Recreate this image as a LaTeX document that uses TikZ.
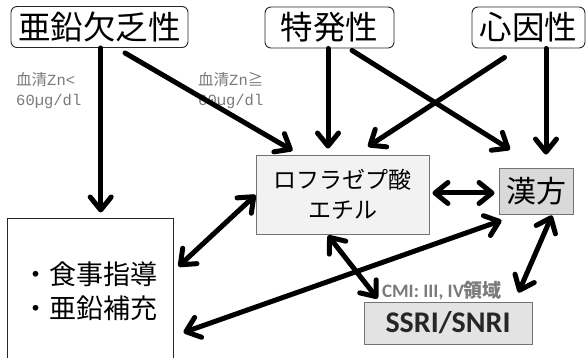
\documentclass[tikz,border=0pt]{standalone}
\usepackage{fontspec}
\setmainfont{Noto Sans CJK JP}
\newfontfamily\carl{Carlito}
\newfontfamily\mono{Liberation Mono}
\usetikzlibrary{arrows.meta}
\definecolor{lblgray}{HTML}{7A7A7A}
\definecolor{boxA}{HTML}{F2F2F2}
\definecolor{boxK}{HTML}{D9D9D9}
\definecolor{boxS}{HTML}{E3E3E3}
\tikzset{myb/.tip={Straight Barb[length=13pt,width=21pt,round]}}
\begin{document}
\begin{tikzpicture}[x=1pt,y=-1pt,
  topbox/.style={draw=black!85, line width=0.9pt, rounded corners=6pt, minimum height=41pt, inner sep=0pt, font=\fontsize{32.5}{32.5}\selectfont},
  midbox/.style={draw=black!55, line width=0.9pt, inner sep=0pt},
  lbl/.style={anchor=west, align=left, inner sep=0pt, text=lblgray, font=\fontsize{15.5}{20}\selectfont},
  arr/.style={line width=5pt, line cap=round, -myb},
  dbl/.style={line width=5pt, line cap=round, myb-myb}]
\path[use as bounding box] (0,0) rectangle (587,358);
\clip (0,0) rectangle (587,358);
% top boxes
\node[topbox, minimum width=177pt] (A) at (99.5,27) {亜鉛欠乏性};
\node[topbox, minimum width=129pt] (B) at (329.5,27.5) {特発性};
\node[topbox, minimum width=113pt] (C) at (528.5,27.5) {心因性};
% middle boxes
\node[midbox, fill=boxA, minimum width=173pt, minimum height=79pt, align=center,
      font=\fontsize{23}{30}\selectfont] (R) at (342.5,194.5) {ロフラゼプ酸\\エチル};
\node[midbox, fill=boxK, minimum width=74pt, minimum height=46pt,
      font=\fontsize{30}{30}\selectfont] (K) at (536,191) {漢方};
\node[midbox, fill=boxS, minimum width=168pt, minimum height=42pt,
      font=\carl\bfseries\fontsize{30}{30}\selectfont, text=black!85] (S) at (448,323) {SSRI/SNRI};
\node[inner sep=0pt, text=lblgray, font=\fontsize{19}{19}\selectfont] (CMI) at (442,291)
      {{\carl\bfseries CMI: III, IV}\textbf{領域}};
% bottom-left box
\node[draw=black!85, line width=1pt, minimum width=166pt, minimum height=145pt, inner sep=0pt,
      align=left, font=\fontsize{27}{34}\selectfont] (L) at (90,291.5) {・食事指導\\・亜鉛補充};
% labels
\node[lbl] (l1) at (16,91) {血清{\mono Zn<}\\{\mono 60µg/dl}};
\node[lbl] (l2) at (198,91) {血清{\mono Zn}≧\\{\mono 60µg/dl}};
% arrows
\draw[arr] ([xshift=1.2pt]A.south) -- ([xshift=10.7pt,yshift=6pt]L.north);
\draw[arr] ([xshift=25.5pt,yshift=-5pt]A.south) -- ([xshift=37pt,yshift=4pt]R.north west);
\draw[arr] ([xshift=-1.5pt]B.south) -- ([xshift=-14.5pt,yshift=6pt]R.north);
\draw[arr] ([xshift=22.5pt,yshift=-2pt]B.south) -- ([xshift=-26pt,yshift=18pt]K.north);
\draw[arr] ([xshift=-24pt,yshift=-9pt]C.south) -- ([xshift=25.5pt,yshift=8pt]R.north);
\draw[arr] ([xshift=17.5pt]C.south) -- ([xshift=10pt,yshift=13pt]K.north);
\draw[dbl] ([xshift=3pt,yshift=1.5pt]R.east) -- ([xshift=-4pt,yshift=-2pt]K.west);
\draw[dbl] ([yshift=-0.5pt]R.west) -- ([xshift=5pt,yshift=-48pt]L.north east);
\draw[dbl] ([xshift=-14.5pt,yshift=-1pt]R.south) -- ([xshift=14pt,yshift=3pt]S.north west);
\draw[dbl] ([xshift=3pt,yshift=-6pt]K.south west) -- ([xshift=10pt,yshift=-114pt]L.north east);
\draw[dbl] ([xshift=16pt,yshift=-1pt]K.south) -- ([xshift=-14pt,yshift=9pt]S.north east);
\end{tikzpicture}
\end{document}
